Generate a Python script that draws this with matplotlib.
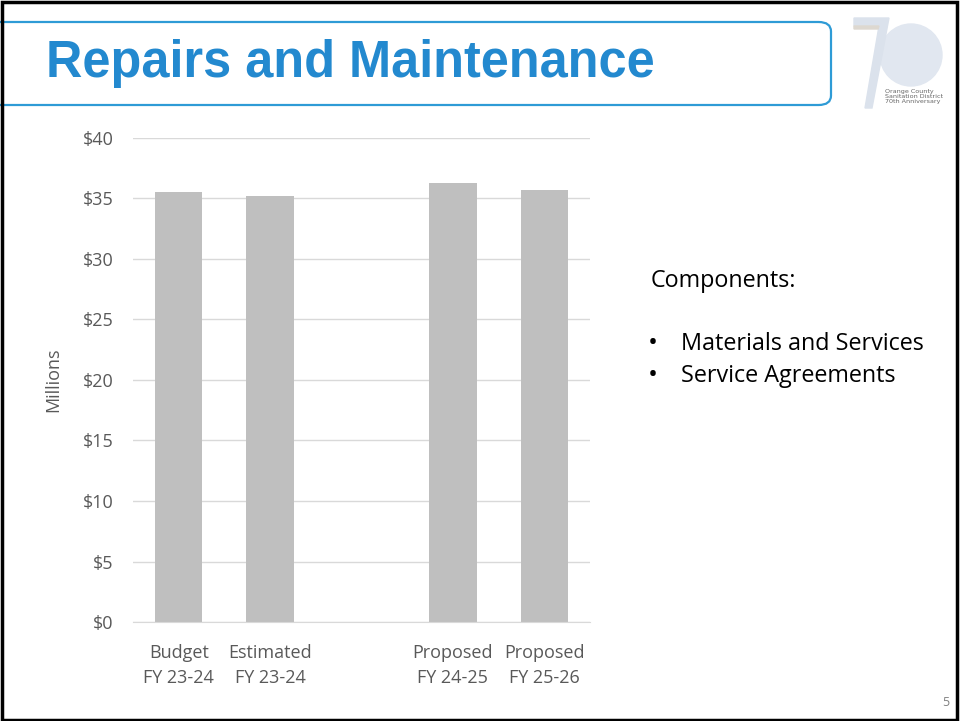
import matplotlib.pyplot as plt
import numpy as np
from matplotlib.patches import FancyBboxPatch, Rectangle, Polygon, Circle

# chart data (millions of dollars)
categories = ["Budget\nFY 23-24", "Estimated\nFY 23-24", "", "Proposed\nFY 24-25", "Proposed\nFY 25-26"]
values = [35.5, 35.2, np.nan, 36.3, 35.7]
y_ticks = [0, 5, 10, 15, 20, 25, 30, 35, 40]
y_labels = ["$" + str(v) for v in y_ticks]
components = ["Materials and Services", "Service Agreements"]

W, H = 960, 721
fig = plt.figure(figsize=(W / 100, H / 100), dpi=100)

# title box, open on the left side (runs into the slide frame)
fig.patches.append(FancyBboxPatch((-20 / W, (H - 105) / H), 851 / W, 83 / H,
                                  boxstyle="round,pad=0,rounding_size=0.013",
                                  transform=fig.transFigure, fill=False,
                                  edgecolor="#2e9bd6", linewidth=1.6))
# slide frame
fig.patches.append(Rectangle((2 / W, 1 / H), 955 / W, 718 / H, transform=fig.transFigure,
                             fill=False, edgecolor="black", linewidth=2.5))

fig.text(46 / W, (H - 64) / H, "Repairs and Maintenance", fontsize=36.4, fontweight="bold",
         family="Liberation Sans", color="#2389cf", va="center", ha="left")

# logo (rough 70th anniversary mark)
logo = fig.add_axes([845 / W, (H - 112) / H, 105 / W, 100 / H])
logo.set_xlim(0, 105)
logo.set_ylim(100, 0)
logo.axis("off")
logo.add_patch(Circle((66, 43), 31, color="#e1e7f0"))
logo.add_patch(Polygon([(9, 6), (44, 6), (27, 96), (20, 96), (34, 14), (9, 14)], color="#dbe2ec"))
logo.add_patch(Polygon([(9, 14), (34, 14), (33, 17), (9, 17)], color="#ddd8d0"))
logo.text(40, 84, "Orange County\nSanitation District\n70th Anniversary", fontsize=4.6,
          color="#666666", va="center", ha="left", linespacing=1.0)

# bar chart
ax = fig.add_axes([133 / W, (H - 622) / H, 457 / W, 484 / H])
x = np.arange(len(categories))
ax.bar(x, values, width=0.52, color="#bfbfbf", zorder=2)
ax.set_xlim(-0.5, len(categories) - 0.5)
ax.set_ylim(0, 40)
ax.set_yticks(y_ticks)
ax.set_yticklabels(y_labels, fontsize=13, color="#595959", family="Open Sans")
ax.set_xticks([0, 1, 3, 4])
ax.set_xticklabels([categories[i] for i in [0, 1, 3, 4]], fontsize=13, color="#595959",
                   family="Open Sans", linespacing=1.45)
ax.tick_params(axis="y", length=0, pad=14)
ax.tick_params(axis="x", length=0, pad=16)
ax.grid(axis="y", color="#d9d9d9", linewidth=1, zorder=0)
for s in ["top", "right", "left"]:
    ax.spines[s].set_visible(False)
ax.spines["bottom"].set_color("#d9d9d9")
ax.set_ylabel("Millions", fontsize=13, color="#595959", family="Open Sans", labelpad=15)

# text block on the right
fig.text(651 / W, (H - 281) / H, "Components:", fontsize=16.8, family="Open Sans",
         color="black", va="center")
for i, c in enumerate(components):
    yy = (H - 344 - 32 * i) / H
    fig.text(648 / W, yy, "\u2022", fontsize=19, family="Open Sans", va="center")
    fig.text(681 / W, yy, c, fontsize=16.8, family="Open Sans", va="center")

fig.text(946 / W, (H - 703) / H, "5", fontsize=9, color="#808080", family="Open Sans",
         ha="center", va="center")

fig.savefig("out.png", dpi=100)
